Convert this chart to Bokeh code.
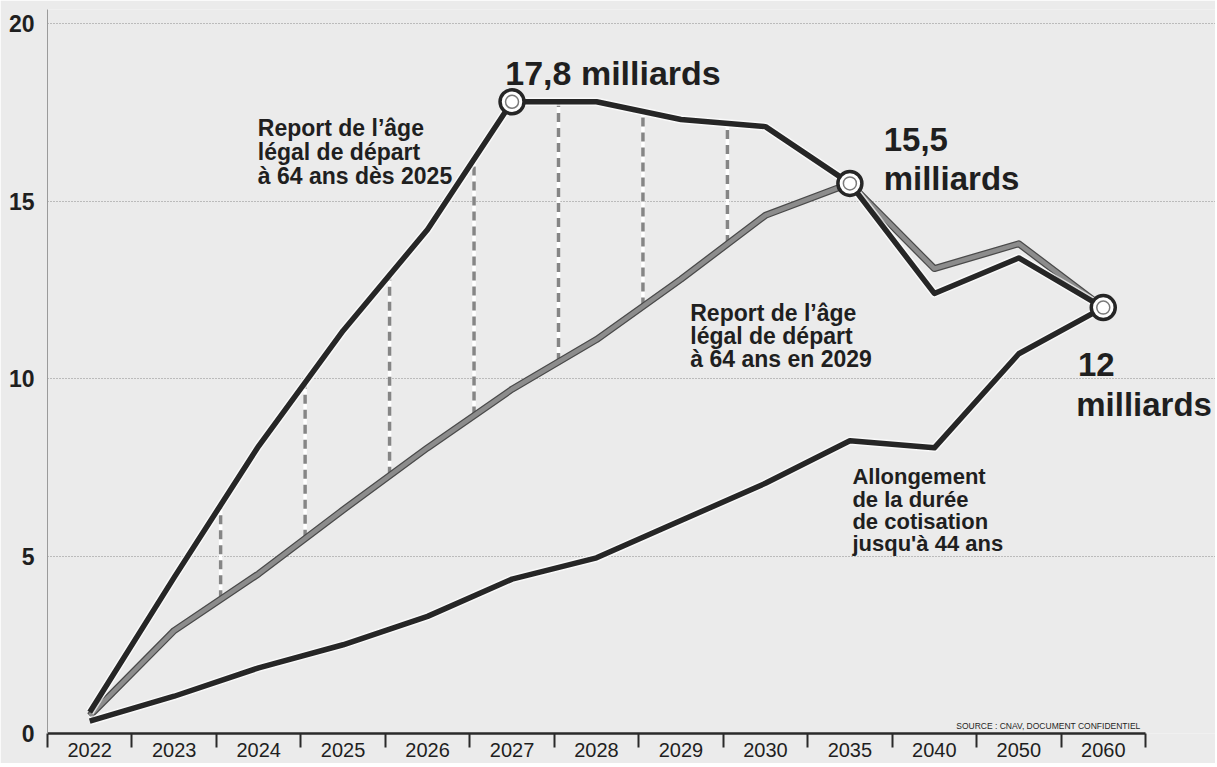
import numpy as np
from bokeh.plotting import figure
from bokeh.models import Range1d, FixedTicker, Label, ColumnDataSource
from bokeh.embed import file_html
from bokeh.resources import INLINE

# ---- data (milliards d'euros) ----
years = ["2022", "2023", "2024", "2025", "2026", "2027", "2028",
         "2029", "2030", "2035", "2040", "2050", "2060"]
report_2025 = [0.6, 4.4, 8.1, 11.35, 14.2, 17.8, 17.8, 17.3, 17.1, 15.5, 12.4, 13.4, 12.0]
report_2029 = [0.5, 2.9, 4.5, 6.3, 8.05, 9.7, 11.1, 12.8, 14.6, 15.5, 13.1, 13.8, 12.0]
allongement = [0.35, 1.05, 1.85, 2.5, 3.3, 4.35, 4.95, 6.0, 7.05, 8.25, 8.05, 10.7, 12.0]
y_ticks = [0, 5, 10, 15, 20]
highlight_years = ["2027", "2035", "2060"]

idx = list(range(len(years)))
n = len(years)

BG = "#ebebeb"
INK = "#1f1f1f"
BOLD_FONT = "Liberation Sans"

BIN_PX = 1098 / n          # width of one year box
FRAME_W = 1168
x_end = -0.5 + FRAME_W / BIN_PX   # extra room on the right for the "12 milliards" label

p = figure(frame_width=FRAME_W, frame_height=724,
           x_range=Range1d(-0.5, x_end), y_range=Range1d(0, 20.4),
           output_backend="svg", toolbar_location=None,
           min_border_left=47, min_border_right=0, min_border_top=9, min_border_bottom=30,
           background_fill_color=BG, border_fill_color=BG)
p.outline_line_color = None
p.xgrid.grid_line_color = None
p.ygrid.ticker = FixedTicker(ticks=y_ticks[1:])
p.ygrid.bounds = (-0.5, n - 0.5)
p.ygrid.grid_line_color = "#8a8a8a"
p.ygrid.grid_line_dash = "1 2"
p.ygrid.grid_line_width = 1

# x axis: labels centred in boxes, separators between them
xa = p.xaxis[0]
xa.bounds = (-0.5, n - 0.5)
xa.ticker = FixedTicker(ticks=idx, minor_ticks=[i - 0.5 for i in range(n + 1)])
xa.major_label_overrides = {i: y for i, y in enumerate(years)}
xa.major_tick_line_color = None
xa.major_tick_out = 0
xa.major_tick_in = 0
xa.minor_tick_line_color = "#2a2a2a"
xa.minor_tick_line_width = 2
xa.minor_tick_out = 14
xa.minor_tick_in = 0
xa.axis_line_color = "#2a2a2a"
xa.axis_line_width = 2.5
xa.major_label_text_font = "Liberation Sans"
xa.major_label_text_font_size = "20px"
xa.major_label_text_color = INK
xa.major_label_standoff = -5

ya = p.yaxis[0]
ya.ticker = FixedTicker(ticks=y_ticks)
ya.major_tick_line_color = None
ya.minor_tick_line_color = None
ya.major_tick_out = 0
ya.major_tick_in = 0
ya.axis_line_color = "#9a9a9a"
ya.axis_line_width = 1
ya.major_label_text_font = BOLD_FONT
ya.major_label_text_font_style = "bold"
ya.major_label_text_font_size = "23px"
ya.major_label_text_color = INK
ya.major_label_standoff = 13

src = ColumnDataSource(dict(x=idx, r25=report_2025, r29=report_2029, al=allongement))

# dashed connectors between the two "report" scenarios
dx = [k + 0.55 for k in range(1, 8)]
d_top = np.interp(dx, idx, report_2025)
d_bot = np.interp(dx, idx, report_2029)
p.segment(x0=dx, y0=d_bot, x1=dx, y1=d_top, line_color="white", line_width=3.5)
p.segment(x0=dx, y0=d_bot, x1=dx, y1=d_top, line_color="#858585", line_width=3.5,
          line_dash="9 6")

# gray line (report 2029)
p.line("x", "r29", source=src, line_color="#4a4a4a", line_width=7, line_join="round")
p.line("x", "r29", source=src, line_color="#8c8c8c", line_width=4.5, line_join="round")

# black lines with light halo
for col in ["al", "r25"]:
    p.line("x", col, source=src, line_color="white", line_width=8.5, line_alpha=0.7,
           line_join="round")
    p.line("x", col, source=src, line_color="#262626", line_width=5.5, line_join="round")

# highlighted points
hx = [years.index(y) for y in highlight_years]
hy = [report_2025[i] for i in hx]
p.scatter(hx, hy, size=24, fill_color="white", line_color="#262626", line_width=3.5)
p.scatter(hx, hy, size=13, fill_color=None, line_color="#7a7a7a", line_width=1.5)

def add_text(x, y, text, size, bold=True, align="left", font=BOLD_FONT):
    p.add_layout(Label(x=x, y=y, text=text, text_font=font,
                       text_font_style="bold" if bold else "normal",
                       text_font_size=size, text_color=INK,
                       text_align=align, text_baseline="alphabetic"))

add_text(4.92, 18.62, "17,8 milliards", "34px")
add_text(9.40, 16.73, "15,5", "33px")
add_text(9.40, 15.63, "milliards", "33px")
add_text(11.70, 10.39, "12", "33px")
add_text(11.68, 9.27, "milliards", "33px")

for t, yy in zip(["Report de l\u2019\u00e2ge", "l\u00e9gal de d\u00e9part", "\u00e0 64 ans d\u00e8s 2025"],
                 [17.07, 16.39, 15.72]):
    add_text(1.99, yy, t, "23px")
for t, yy in zip(["Report de l\u2019\u00e2ge", "l\u00e9gal de d\u00e9part", "\u00e0 64 ans en 2029"],
                 [11.86, 11.21, 10.56]):
    add_text(7.11, yy, t, "23px")
for t, yy in zip(["Allongement", "de la dur\u00e9e", "de cotisation", "jusqu'\u00e0 44 ans"],
                 [7.24, 6.59, 5.97, 5.35]):
    add_text(9.03, yy, t, "22px")

add_text(12.44, 0.2, "SOURCE : CNAV, DOCUMENT CONFIDENTIEL", "8.5px", bold=False, align="right")

open("out.html", "w").write(file_html(p, INLINE))
